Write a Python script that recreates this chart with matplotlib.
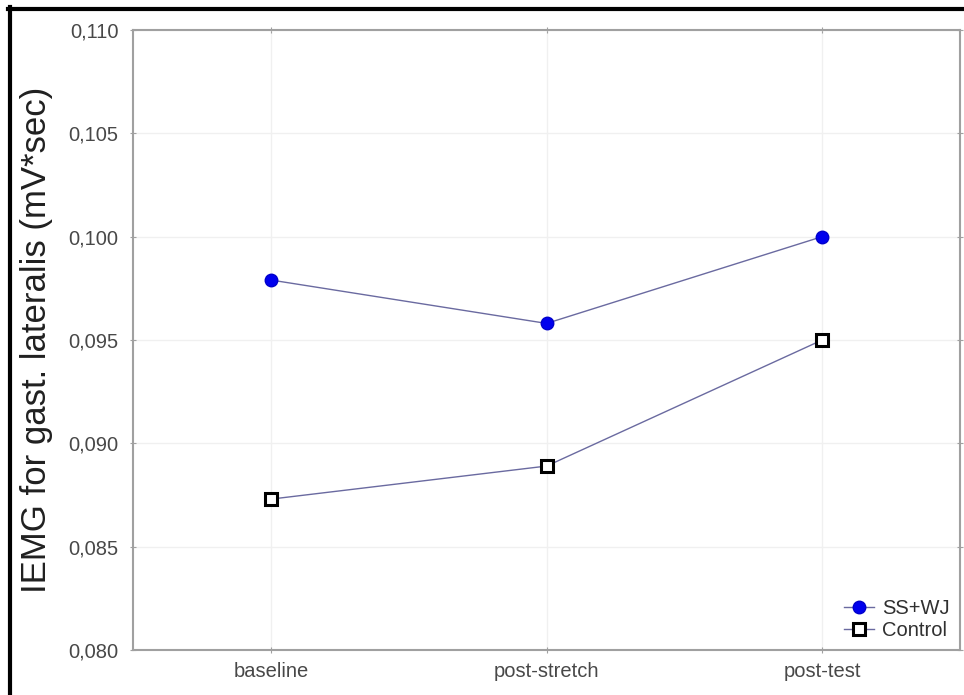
import matplotlib.pyplot as plt
from matplotlib.lines import Line2D

plt.rcParams['font.family'] = ['Liberation Sans', 'DejaVu Sans']

# Datos
phases = ["baseline", "post-stretch", "post-test"]
ss_wj = [0.0979, 0.0958, 0.1000]
control = [0.0873, 0.0889, 0.0950]
y_ticks = [0.080, 0.085, 0.090, 0.095, 0.100, 0.105, 0.110]
y_ticklabels = ["0,080", "0,085", "0,090", "0,095", "0,100", "0,105", "0,110"]

fig = plt.figure(figsize=(9.64, 6.95), dpi=100)
ax = fig.add_axes([0.138, 0.0647, 0.858, 0.8923])

x = range(len(phases))
ax.plot(x, ss_wj, color='#6a6aa0', lw=1.0, marker='o', ms=9,
        mfc='#0000ee', mec='#0000cc', label='SS+WJ', zorder=3)
ax.plot(x, control, color='#6a6aa0', lw=1.0, marker='s', ms=9,
        mfc='white', mec='black', mew=2.2, label='Control', zorder=3)

ax.set_xlim(-0.5, 2.5)
ax.set_ylim(0.080, 0.110)
ax.set_xticks(list(x))
ax.set_xticklabels(phases)
ax.set_yticks(y_ticks)
ax.set_yticklabels(y_ticklabels)

ax.grid(True, color='#f0f0f0', lw=1.0)
ax.set_axisbelow(True)
for s in ax.spines.values():
    s.set_color('#a0a0a0')
    s.set_linewidth(1.5)
ax.tick_params(axis='both', colors='#a0a0a0', labelcolor='#484848',
               labelsize=14.5, direction='inout', length=5,
               top=True, right=True)
ax.tick_params(axis='y', pad=8)
ax.tick_params(axis='x', pad=6)

ax.set_ylabel("IEMG for gast. lateralis (mV*sec)", fontsize=25, color='#202020', labelpad=11)

leg = ax.legend(loc='lower right', frameon=False, fontsize=14.5, handlelength=1.5,
                handletextpad=0.4, labelspacing=0.15, borderaxespad=0.1)
for t in leg.get_texts():
    t.set_color('#303030')

# Marco negro arriba e izquierda
fig.add_artist(Line2D([8 / 964, 1], [1 - 8.5 / 695, 1 - 8.5 / 695],
                      transform=fig.transFigure, color='black', lw=3))
fig.add_artist(Line2D([10 / 964, 10 / 964], [0, 1 - 7 / 695],
                      transform=fig.transFigure, color='black', lw=3))

fig.savefig("out.png", dpi=100)
